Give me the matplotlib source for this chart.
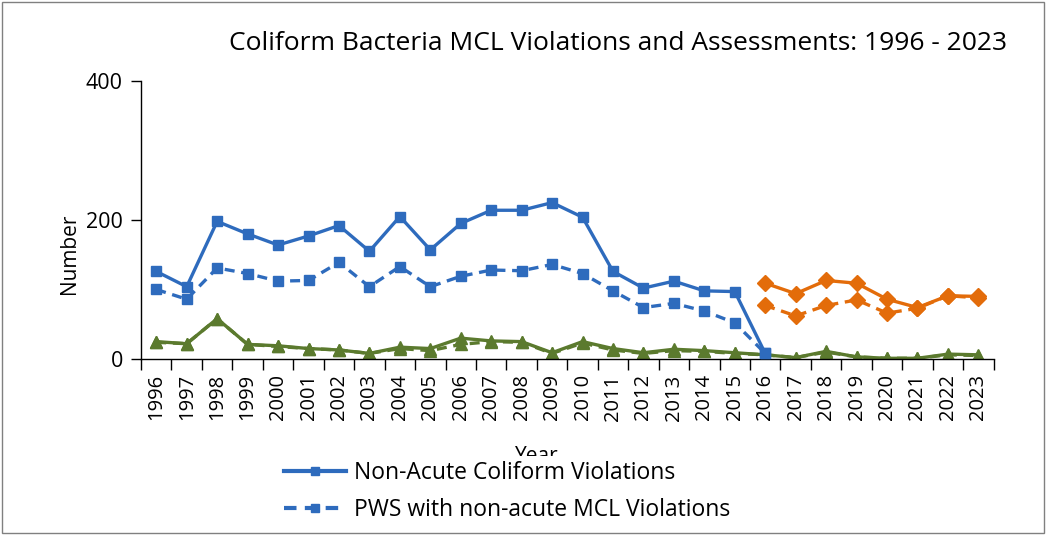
import matplotlib.pyplot as plt
import numpy as np
from matplotlib.patches import Rectangle

years = list(range(1996, 2024))

# blue series, 1996-2016
noncute_viol = [126, 104, 198, 180, 164, 177, 192, 155, 205, 157, 195, 214, 214, 225,
                204, 126, 102, 112, 98, 97, 8]
pws_noncute = [100, 86, 131, 123, 112, 113, 139, 104, 133, 104, 119, 128, 127, 136,
               123, 98, 74, 80, 69, 52, 8]

# orange series, 2016-2023
orange_solid = [109, 94, 113, 109, 86, 74, 91, 90]
orange_dash = [77, 62, 77, 85, 66, 73, 91, 88]

# green series, 1996-2023
green_solid = [25, 22, 58, 21, 19, 15, 13, 8, 17, 15, 30, 26, 25, 9, 25, 15, 9, 14, 12,
               9, 6, 2, 11, 3, 1, 1, 7, 6]
green_dash = [24, 22, 58, 21, 18, 15, 13, 8, 15, 12, 21, 25, 24, 8, 23, 13, 8, 12, 11,
              8, 6, 2, 10, 3, 1, 1, 6, 5]

blue = '#2e6bbd'
orange = '#e36c0a'
green = '#5b7a2e'

plt.rcParams['font.family'] = ['Open Sans', 'DejaVu Sans']

fig = plt.figure(figsize=(10.47, 5.35), dpi=100)
ax = fig.add_axes([0.1347, 0.329, 0.8143, 0.5196])

x = np.arange(len(years))
xb = x[:len(noncute_viol)]
xo = x[len(years) - len(orange_solid):]

ax.plot(x, green_dash, color=green, lw=2.4, ls=(0, (3, 2)), marker='^', ms=8, zorder=2)
ax.plot(x, green_solid, color=green, lw=2.4, marker='^', ms=8, zorder=2)
l1, = ax.plot(xb, noncute_viol, color=blue, lw=2.4, marker='s', ms=7, zorder=3)
l2, = ax.plot(xb, pws_noncute, color=blue, lw=2.4, ls=(0, (3, 2)), marker='s', ms=7, zorder=3)
ax.plot(xo, orange_solid, color=orange, lw=2.4, marker='D', ms=8, zorder=3)
ax.plot(xo, orange_dash, color=orange, lw=2.4, ls=(0, (3, 2)), marker='D', ms=8, zorder=3)

ax.set_xlim(-0.5, len(years) - 0.5)
ax.set_ylim(0, 400)
ax.set_yticks([0, 200, 400])
ax.tick_params(axis='y', labelsize=15.5, length=7, width=1, pad=6)

ax.set_xticks(x)
ax.set_xticklabels([str(y) for y in years], rotation=90, fontsize=14.5)
ax.set_xticks(np.arange(-0.5, len(years), 1), minor=True)
ax.tick_params(axis='x', which='major', length=0, pad=11)
ax.tick_params(axis='x', which='minor', length=8, width=1)

for s in ['top', 'right']:
    ax.spines[s].set_visible(False)
for s in ['left', 'bottom']:
    ax.spines[s].set_color('black')
    ax.spines[s].set_linewidth(1)

ax.set_ylabel('Number', fontsize=15, labelpad=0)
ax.yaxis.set_label_coords(-0.072, 0.38)
fig.text(0.513, 0.146, 'Year', fontsize=15, ha='center', va='center')

fig.text(0.59, 0.918, 'Coliform Bacteria MCL Violations and Assessments: 1996 - 2023',
         fontsize=19, ha='center', va='center')

leg = fig.legend([l1, l2], ['Non-Acute Coliform Violations', 'PWS with non-acute MCL Violations'],
                 loc='upper left', bbox_to_anchor=(0.267, 0.147), frameon=True,
                 fontsize=16.5, handlelength=2.7, handletextpad=0.35, labelspacing=0.55,
                 borderpad=0.2, borderaxespad=0, markerscale=0.8)
leg.get_frame().set_edgecolor('none')
leg.get_frame().set_facecolor('white')
leg.get_frame().set_alpha(1)
for h in leg.legend_handles:
    h.set_linewidth(3)

fig.patches.append(Rectangle((0.002, 0.004), 0.995, 0.992, transform=fig.transFigure,
                             fill=False, edgecolor='#808080', lw=1))

fig.savefig('out.png', dpi=100)
